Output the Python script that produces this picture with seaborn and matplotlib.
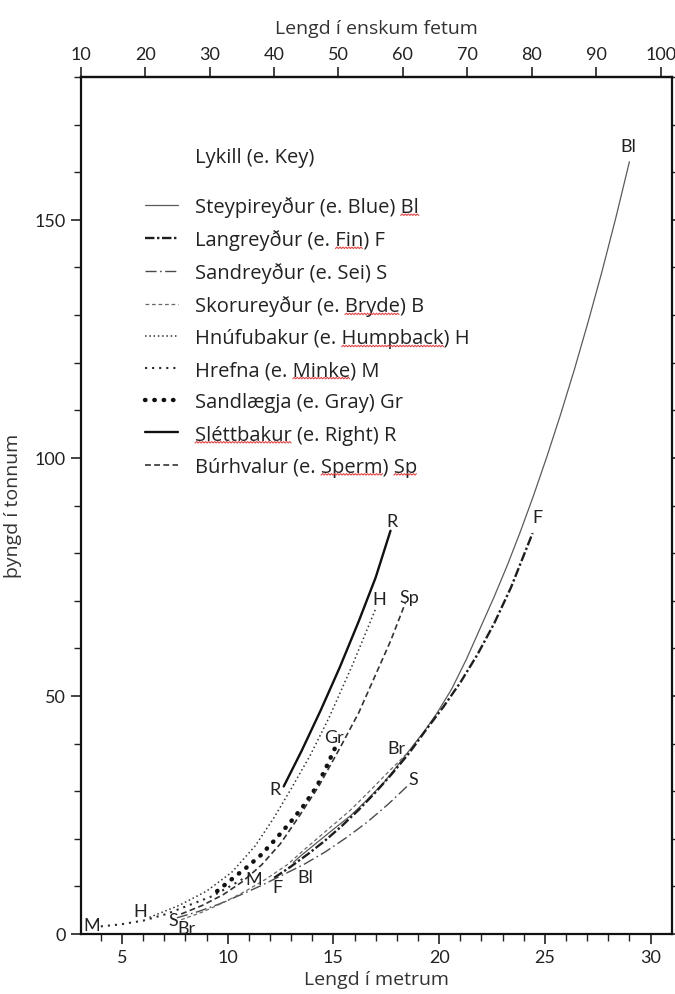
import numpy as np
import pandas as pd
import matplotlib
matplotlib.use("Agg")
import matplotlib.pyplot as plt
import matplotlib.transforms as mtransforms
from matplotlib.lines import Line2D
from matplotlib import font_manager as fm
import seaborn as sns

# ---------------- data ----------------
blue_len = [13.1, 13.45, 14.25, 15.0, 15.8, 16.6, 17.4, 18.0, 18.65, 19.3, 19.9, 20.6, 21.3, 21.97,
            22.6, 23.24, 23.85, 24.45, 25.1, 25.75, 26.4, 27.05, 27.7, 28.35, 29.0]
blue_wt = [15.0, 16.4, 19.3, 22.0, 24.8, 28.2, 31.9, 35.2, 38.9, 42.6, 46.4, 51.5, 57.8, 64.5,
           70.8, 77.6, 84.6, 91.9, 100.3, 109.2, 118.6, 128.6, 139.1, 150.3, 162.2]

fin_len = [12.2, 13.0, 13.8, 14.6, 15.4, 16.2, 17.0, 17.8, 18.6, 19.4, 20.2, 21.0, 21.8, 22.6, 23.4, 24.42]
fin_wt = [11.8, 14.2, 16.8, 19.6, 22.7, 26.1, 29.8, 33.8, 38.1, 43.0, 47.7, 52.8, 58.6, 65.2, 72.8, 84.2]

sei_len = [7.6, 8.6, 9.6, 10.6, 11.6, 12.6, 13.6, 14.6, 15.6, 16.6, 17.6, 18.6]
sei_wt = [3.4, 4.7, 6.3, 8.2, 10.2, 12.4, 14.6, 17.2, 20.2, 23.5, 27.3, 31.5]

bryde_len = [7.8, 8.8, 9.8, 10.8, 11.8, 12.8, 13.8, 14.8, 15.8, 16.8, 17.7, 18.5]
bryde_wt = [3.0, 4.6, 6.6, 8.9, 11.5, 14.5, 18.4, 22.2, 26.0, 30.4, 34.5, 38.0]

hump_len = [6.3, 7.7, 9.0, 10.2, 11.3, 12.2, 13.0, 13.9, 14.8, 15.9, 17.0]
hump_wt = [3.5, 6.0, 9.0, 13.0, 18.5, 24.5, 30.5, 37.5, 45.5, 56.5, 68.3]

minke_len = [4.0, 4.9, 6.0, 7.1, 8.2, 9.3, 10.3, 10.8]
minke_wt = [1.6, 2.0, 2.8, 4.2, 6.1, 8.0, 10.5, 11.8]

gray_len = [9.5, 10.3, 10.9, 11.55, 12.2, 12.97, 13.6, 14.23, 14.7, 15.1]
gray_wt = [9.0, 11.9, 14.0, 16.5, 19.6, 23.5, 27.0, 31.1, 35.4, 39.3]

right_len = [12.65, 13.5, 14.4, 15.3, 16.2, 17.0, 17.7]
right_wt = [31.0, 38.5, 47.0, 56.0, 65.7, 74.9, 84.7]

sperm_len = [7.8, 8.8, 9.8, 10.7, 11.6, 12.5, 13.3, 14.3, 15.3, 16.2, 17.0, 17.7, 18.4]
sperm_wt = [4.2, 6.0, 8.3, 11.0, 14.5, 19.0, 24.2, 31.0, 39.0, 46.5, 54.5, 61.5, 69.5]

legend_labels = [
    "Steypireyður (e. Blue) Bl",
    "Langreyður (e. Fin) F",
    "Sandreyður (e. Sei) S",
    "Skorureyður (e. Bryde) B",
    "Hnúfubakur (e. Humpback) H",
    "Hrefna (e. Minke) M",
    "Sandlægja (e. Gray) Gr",
    "Sléttbakur (e. Right) R",
    "Búrhvalur (e. Sperm) Sp",
]
legend_title = "Lykill (e. Key)"

curve_label_text = ["Bl", "Bl", "F", "F", "S", "S", "Br", "Br", "M", "M", "H", "H", "R", "R", "Sp", "Gr"]
curve_label_x = [28.95, 13.68, 24.67, 12.36, 18.8, 7.42, 18.0, 8.05, 3.57, 11.23, 5.86, 17.19, 17.79, 12.26, 18.57, 15.02]
curve_label_y = [165.5, 12.0, 87.5, 9.9, 32.6, 3.0, 39.0, 1.2, 1.8, 11.5, 4.9, 70.4, 86.8, 30.5, 70.8, 41.3]

x_major = [5, 10, 15, 20, 25, 30]
y_major = [0, 50, 100, 150]
ft_major = [10, 20, 30, 40, 50, 60, 70, 80, 90, 100]

series = [
    (blue_len, blue_wt), (fin_len, fin_wt), (sei_len, sei_wt), (bryde_len, bryde_wt),
    (hump_len, hump_wt), (minke_len, minke_wt), (gray_len, gray_wt),
    (right_len, right_wt), (sperm_len, sperm_wt),
]

styles = [
    dict(color="#5a5a5a", lw=0.9, linestyle="-"),
    dict(color="#1e1e1e", lw=1.7, linestyle=(0, (4, 1.1, 1, 1.1))),
    dict(color="#4a4a4a", lw=1.0, linestyle=(0, (8, 2.5, 1.2, 2.5))),
    dict(color="#6a6a6a", lw=0.9, linestyle=(0, (3, 2.2))),
    dict(color="#333333", lw=1.1, linestyle=(0, (1, 1.8))),
    dict(color="#2a2a2a", lw=1.5, linestyle=(0, (1, 2.4))),
    dict(color="#111111", lw=3.2, linestyle=(0, (0.1, 2.0)), dash_capstyle="round"),
    dict(color="#111111", lw=1.7, linestyle="-"),
    dict(color="#333333", lw=1.2, linestyle=(0, (3.5, 2.0))),
]

squiggle_words = [["Bl"], ["Fin"], [], ["Bryde"], ["Humpback"], ["Minke"], [], ["Sléttbakur"], ["Sperm", "Sp"]]

# ---------------- style ----------------
sns.set_style("ticks")
avail = {f.name for f in fm.fontManager.ttflist}
narrow = "Liberation Sans Narrow" if "Liberation Sans Narrow" in avail else "Lato"
plt.rcParams["font.family"] = ["Open Sans", "DejaVu Sans"]

fig = plt.figure(figsize=(6.75, 9.95), dpi=100)
W, H = 675.0, 995.0
L, R_, T, B = 80.7, 671.7, 78.0, 935.0
ax = fig.add_axes([L / W, (H - B) / H, (R_ - L) / W, (B - T) / H])

for (xs, ys), st, lab in zip(series, styles, legend_labels):
    df = pd.DataFrame({"x": xs, "y": ys})
    sns.lineplot(data=df, x="x", y="y", ax=ax, sort=False, estimator=None,
                 label=lab, **st)

ax.set_xlim(3.048, 31.0)
ax.set_ylim(0, 180)
ax.set_xticks(x_major)
ax.set_xticks(np.arange(4, 31, 1), minor=True)
ax.set_yticks(y_major)
ax.set_yticks(np.arange(0, 181, 10), minor=True)
ax.yaxis.set_ticks_position("both")
ax.tick_params(axis="both", which="major", direction="out", length=7, width=1.2,
               colors="#222222", labelsize=13, labelcolor="#222222")
ax.tick_params(axis="both", which="minor", direction="out", length=5, width=1.0, colors="#222222")
ax.tick_params(axis="y", which="both", labelright=False)
for lbl in ax.get_xticklabels() + ax.get_yticklabels():
    lbl.set_fontfamily(narrow)
for sp in ax.spines.values():
    sp.set_visible(True)
    sp.set_linewidth(1.6)
    sp.set_color("#111111")

ax.set_xlabel("Lengd í metrum", fontsize=14, color="#333333", labelpad=4)
ax.set_ylabel("þyngd í tonnum", fontsize=14, color="#333333")
ax.yaxis.set_label_coords((22 - L) / (R_ - L), (B - 506) / (B - T))

sec = ax.secondary_xaxis("top", functions=(lambda m: np.asarray(m) / 0.3048,
                                             lambda f: np.asarray(f) * 0.3048))
sec.set_xticks(ft_major)
sec.tick_params(direction="out", length=7, width=1.2, colors="#222222", labelsize=13)
for lbl in sec.get_xticklabels():
    lbl.set_fontfamily(narrow)
sec.spines["top"].set_linewidth(1.6)
sec.set_xlabel("Lengd í enskum fetum", fontsize=14, color="#333333", labelpad=10)

for t, x, y in zip(curve_label_text, curve_label_x, curve_label_y):
    ax.text(x, y, t, ha="center", va="center", fontsize=13, color="#222222", family=narrow)

handles, labels = ax.get_legend_handles_labels()
leg = ax.legend(handles, labels, loc="upper left", bbox_to_anchor=((145 - L) / (R_ - L), (B - 197) / (B - T)),
                frameon=False, fontsize=14.5, handlelength=1.64, handletextpad=0.85,
                labelspacing=0.6, borderpad=0, borderaxespad=0)
for txt in leg.get_texts():
    txt.set_color("#222222")
ax.text((195 - L) / (R_ - L), (B - 158) / (B - T), legend_title, transform=ax.transAxes,
        ha="left", va="center", fontsize=14.5, color="#222222")

# red spell-check squiggles under some legend words
fig.canvas.draw()
renderer = fig.canvas.get_renderer()
ident = mtransforms.IdentityTransform()
for txt, words in zip(leg.get_texts(), squiggle_words):
    s = txt.get_text()
    bb = txt.get_window_extent(renderer)
    for w in words:
        idx = s.rfind(w) if w in ("Bl", "Sp") else s.find(w)
        if idx < 0:
            continue
        tmp = fig.text(0, 0, s[:idx], fontproperties=txt.get_fontproperties())
        x0 = bb.x0 + (tmp.get_window_extent(renderer).width if idx > 0 else 0)
        tmp.set_text(s[:idx + len(w)])
        x1 = bb.x0 + tmp.get_window_extent(renderer).width
        tmp.remove()
        xs = np.arange(x0, x1 + 0.1, 1.5)
        ys = bb.y0 + 1.5 + np.where(np.arange(len(xs)) % 2 == 0, 0.0, 1.5)
        fig.add_artist(Line2D(xs, ys, transform=ident, color="#e04848", lw=0.8))

fig.savefig("out.png", dpi=100)
